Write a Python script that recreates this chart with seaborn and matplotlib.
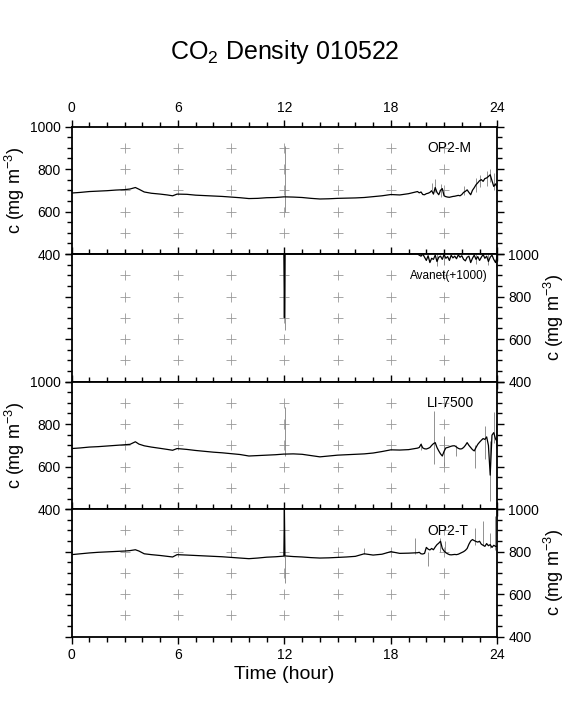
import numpy as np
import pandas as pd
import matplotlib
matplotlib.use("Agg")
import matplotlib.pyplot as plt
from matplotlib.ticker import MultipleLocator
import seaborn as sns

# ---- data (hour of day, mg m-3) ----
base_t = [0, 0.5, 1, 1.5, 2, 2.5, 3, 3.3, 3.6, 3.8, 4.1, 4.5, 5, 5.4, 5.7, 5.95,
          6.5, 7, 7.5, 8, 8.5, 9, 9.5, 10, 10.5, 11, 11.5, 11.97, 12.0, 12.03,
          12.5, 13, 13.5, 14, 14.5, 15, 15.5, 16, 16.5, 17, 17.5, 18, 18.5, 19, 19.5]
tail_t = [19.6, 19.7, 19.8, 19.9, 20.0, 20.1, 20.2, 20.3, 20.4, 20.5, 20.6,
          20.7, 20.8, 20.9, 21.0, 21.1, 21.2, 21.3, 21.4, 21.5, 21.6, 21.7,
          21.8, 21.9, 22.0, 22.1, 22.2, 22.3, 22.4, 22.5, 22.6, 22.7, 22.8,
          22.9, 23.0, 23.1, 23.2, 23.3, 23.4, 23.5, 23.6, 23.7, 23.8, 23.9, 24.0]

op2m_base = [687, 690, 694, 696, 698, 701, 703, 706, 713, 705, 692, 686, 682, 678,
             674, 682, 681, 677, 675, 673, 671, 668, 665, 661, 662, 665, 666, 669,
             669, 669, 668, 666, 662, 659, 660, 662, 663, 664, 666, 670, 674, 680,
             678, 684, 694]
op2m_tail = [688, 692, 680, 679, 684, 686, 690, 698, 682, 713, 690, 679, 700, 708,
             674, 670, 668, 667, 669, 671, 672, 674, 676, 674, 680, 690, 695, 702,
             690, 679, 700, 712, 726, 735, 745, 750, 742, 755, 758, 765, 773, 745,
             718, 730, 713]
op2m_spk_t = [12.05, 20.3, 20.5, 20.85, 22.1, 22.8, 23.0, 23.4, 23.6, 23.8]
op2m_spk_lo = [600, 700, 690, 670, 680, 690, 715, 720, 740, 700]
op2m_spk_hi = [910, 735, 753, 730, 720, 760, 770, 790, 800, 780]

avanet_base = [1000] * 28 + [700] + [1000] * 16
avanet_tail = [995, 990, 1000, 985, 970, 992, 960, 980, 975, 995, 965, 985, 990,
               975, 998, 980, 988, 970, 994, 982, 990, 978, 996, 985, 992, 975,
               968, 985, 990, 960, 980, 995, 975, 988, 970, 985, 998, 980, 990,
               965, 985, 995, 975, 960, 990]
avanet_spk_t = [12.02, 20.6, 21.0, 22.8, 23.5, 23.9]
avanet_spk_lo = [645, 945, 950, 955, 950, 940]
avanet_spk_hi = [1000, 1000, 1000, 1000, 1000, 1000]

li_base = [685, 688, 692, 694, 697, 700, 703, 705, 717, 706, 698, 692, 686, 681,
           677, 685, 681, 676, 672, 668, 665, 661, 657, 650, 652, 654, 656, 659,
           659, 659, 660, 658, 652, 646, 650, 654, 656, 658, 660, 664, 671, 679,
           678, 680, 687]
li_tail = [690, 705, 688, 684, 683, 686, 690, 700, 708, 713, 690, 674, 660, 650,
           672, 688, 690, 693, 696, 698, 698, 692, 686, 683, 684, 690, 700, 713,
           700, 690, 680, 674, 690, 705, 715, 724, 732, 728, 740, 700, 560, 748,
           760, 730, 717]
li_spk_t = [12.05, 19.7, 20.41, 20.97, 21.67, 22.76, 23.32, 23.6, 23.8, 23.95]
li_spk_lo = [650, 680, 611, 603, 650, 595, 636, 438, 713, 690]
li_spk_hi = [880, 710, 863, 745, 700, 700, 792, 720, 855, 800]

op2t_base = [786, 790, 794, 797, 799, 801, 803, 805, 809, 803, 790, 786, 782, 778,
             775, 786, 784, 782, 780, 778, 776, 773, 770, 767, 770, 774, 776, 779,
             1000, 780, 777, 775, 772, 770, 771, 773, 775, 778, 790, 784, 788, 800,
             792, 793, 795]
op2t_tail = [797, 790, 789, 792, 820, 812, 808, 815, 809, 822, 833, 840, 849, 815,
             803, 795, 790, 786, 785, 786, 787, 786, 788, 792, 796, 800, 806, 815,
             835, 850, 857, 852, 848, 845, 849, 835, 830, 825, 838, 828, 833, 820,
             830, 825, 825]
op2t_spk_t = [12.05, 16.47, 19.38, 20.07, 20.78, 21.06, 22.75, 23.2, 23.6, 23.88]
op2t_spk_lo = [652, 787, 790, 731, 800, 800, 830, 830, 815, 810]
op2t_spk_hi = [780, 817, 865, 800, 865, 850, 912, 943, 888, 967]

panel_names = ["OP2-M", "Avanet(+1000)", "LI-7500", "OP2-T"]
cross_hours = [3, 6, 9, 12, 15, 18, 21]
cross_levels = [500, 600, 700, 800, 900]

series = [
    (op2m_base + op2m_tail, op2m_spk_t, op2m_spk_lo, op2m_spk_hi),
    (avanet_base + avanet_tail, avanet_spk_t, avanet_spk_lo, avanet_spk_hi),
    (li_base + li_tail, li_spk_t, li_spk_lo, li_spk_hi),
    (op2t_base + op2t_tail, op2t_spk_t, op2t_spk_lo, op2t_spk_hi),
]
hours = base_t + tail_t

sns.set_style("ticks")
plt.rcParams['font.family'] = ['Liberation Sans', 'DejaVu Sans']
plt.rcParams['mathtext.fontset'] = 'custom'
plt.rcParams['mathtext.rm'] = 'Liberation Sans'
plt.rcParams['mathtext.it'] = 'Liberation Sans'
plt.rcParams['axes.linewidth'] = 1.3
for key in ['text.color', 'axes.labelcolor', 'axes.edgecolor', 'xtick.color', 'ytick.color']:
    plt.rcParams[key] = 'black'

fig = plt.figure(figsize=(5.69, 7.09), dpi=100)
W, H = 569, 709
x0, x1 = 71.5, 497.3
y_top, y_bot = 126.5, 636.7
ph = (y_bot - y_top) / 4

ylab = r"c (mg m$^{-3}$)"
gx, gy = np.meshgrid(cross_hours, cross_levels)

for i, (vals, st, slo, shi) in enumerate(series):
    top = y_top + i * ph
    ax = fig.add_axes([x0 / W, 1 - (top + ph) / H, (x1 - x0) / W, ph / H])
    df = pd.DataFrame({"hour": hours, "c": vals})

    ax.plot(gx.ravel(), gy.ravel(), "+", color="0.6", ms=7, mew=0.6, zorder=1)
    ax.vlines(st, slo, shi, color="0.5", lw=0.6, zorder=2)
    sns.lineplot(data=df, x="hour", y="c", ax=ax, color="black", lw=0.9,
                 estimator=None, sort=False, zorder=3)

    ax.set_xlim(0, 24)
    ax.set_ylim(400, 1000)
    ax.xaxis.set_major_locator(MultipleLocator(6))
    ax.xaxis.set_minor_locator(MultipleLocator(1))
    ax.yaxis.set_major_locator(MultipleLocator(200))
    ax.yaxis.set_minor_locator(MultipleLocator(50))
    left_side = i % 2 == 0
    ax.tick_params(which="both", direction="out", top=True, bottom=True,
                   left=True, right=True, width=1.0, labelsize=10, pad=3,
                   labelleft=left_side, labelright=not left_side,
                   labeltop=(i == 0), labelbottom=(i == 3))
    ax.tick_params(which="major", length=5)
    ax.tick_params(which="minor", length=3.5)
    ax.set_xlabel("")
    if not left_side:
        ax.yaxis.set_label_position("right")
    ax.set_ylabel(ylab, fontsize=13, labelpad=2)
    if i == 3:
        ax.set_xlabel("Time (hour)", fontsize=14, labelpad=3)

    fs = 8.5 if i == 1 else 10
    ax.text(0.835 if i != 1 else 0.795, 0.83, panel_names[i], transform=ax.transAxes,
            fontsize=fs, ha="left", va="center")

fig.text(0.5, 1 - 52 / H, r"CO$_2$ Density 010522", ha="center", va="center",
         fontsize=18)

fig.savefig("out.png", dpi=100)
